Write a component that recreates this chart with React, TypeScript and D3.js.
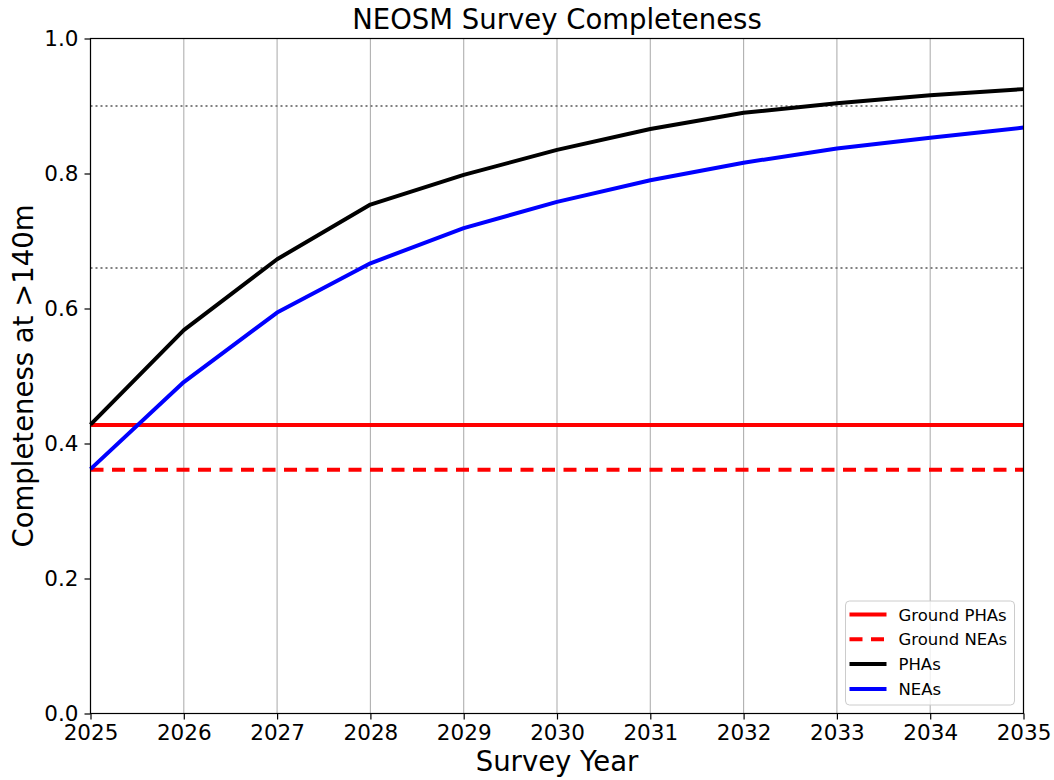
import React, { useRef, useEffect } from 'react';
import * as d3 from 'd3';

// survey years and completeness fractions
const years = [2025, 2026, 2027, 2028, 2029, 2030, 2031, 2032, 2033, 2034, 2035];
const phaValues = [0.428, 0.568, 0.673, 0.754, 0.798, 0.835, 0.866, 0.890, 0.904, 0.916, 0.925];
const neaValues = [0.362, 0.491, 0.594, 0.667, 0.719, 0.758, 0.790, 0.816, 0.837, 0.853, 0.868];
const groundPha = 0.4275;
const groundNea = 0.361;
const refLines = [0.9, 0.66];
const yTicks = [0, 0.2, 0.4, 0.6, 0.8, 1.0];

const legendItems = [
  { label: 'Ground PHAs', color: '#ff0000', dash: null },
  { label: 'Ground NEAs', color: '#ff0000', dash: '13,8.5' },
  { label: 'PHAs', color: '#000000', dash: null },
  { label: 'NEAs', color: '#0000ff', dash: null },
];

const W = 1054;
const H = 780;
const margin = { top: 38.5, right: 30.5, bottom: 66.5, left: 90.5 };
const font = 'DejaVu Sans, sans-serif';

const Chart: React.FC = () => {
  const svgRef = useRef<SVGSVGElement | null>(null);

  useEffect(() => {
    if (!svgRef.current) return;
    const chartWidth = W - margin.left - margin.right;
    const chartHeight = H - margin.top - margin.bottom;

    const x = d3.scaleLinear().domain([2025, 2035]).range([0, chartWidth]);
    const y = d3.scaleLinear().domain([0, 1]).range([chartHeight, 0]);

    const svg = d3.select(svgRef.current)
      .attr('width', W)
      .attr('height', H)
      .style('font-family', font);

    svg.append('rect').attr('width', W).attr('height', H).attr('fill', '#ffffff');

    const g = svg.append('g').attr('transform', `translate(${margin.left},${margin.top})`);

    // vertical grid
    g.append('g')
      .selectAll('line')
      .data(years)
      .join('line')
      .attr('x1', d => x(d)).attr('x2', d => x(d))
      .attr('y1', 0).attr('y2', chartHeight)
      .attr('stroke', '#b0b0b0')
      .attr('stroke-width', 1.1);

    // dotted reference levels
    g.append('g')
      .selectAll('line')
      .data(refLines)
      .join('line')
      .attr('x1', 0).attr('x2', chartWidth)
      .attr('y1', d => y(d)).attr('y2', d => y(d))
      .attr('stroke', '#808080')
      .attr('stroke-width', 2)
      .attr('stroke-dasharray', '2,3');

    // ground-based survey levels
    g.append('line')
      .attr('x1', 0).attr('x2', chartWidth)
      .attr('y1', y(groundPha)).attr('y2', y(groundPha))
      .attr('stroke', '#ff0000').attr('stroke-width', 4);
    g.append('line')
      .attr('x1', 0).attr('x2', chartWidth)
      .attr('y1', y(groundNea)).attr('y2', y(groundNea))
      .attr('stroke', '#ff0000').attr('stroke-width', 4)
      .attr('stroke-dasharray', '13,8.5');

    const line = d3.line<number>()
      .x((_, i) => x(years[i]))
      .y(d => y(d));

    g.append('path')
      .attr('d', line(phaValues))
      .attr('fill', 'none')
      .attr('stroke', '#000000')
      .attr('stroke-width', 4)
      .attr('stroke-linejoin', 'round');

    g.append('path')
      .attr('d', line(neaValues))
      .attr('fill', 'none')
      .attr('stroke', '#0000ff')
      .attr('stroke-width', 4)
      .attr('stroke-linejoin', 'round');

    // frame
    g.append('rect')
      .attr('width', chartWidth)
      .attr('height', chartHeight)
      .attr('fill', 'none')
      .attr('stroke', '#000000')
      .attr('stroke-width', 1.2);

    // axes
    const xAxis = g.append('g')
      .attr('transform', `translate(0,${chartHeight})`)
      .call(d3.axisBottom(x).tickValues(years).tickFormat(d3.format('d')).tickSize(6).tickPadding(5));
    const yAxis = g.append('g')
      .call(d3.axisLeft(y).tickValues(yTicks).tickFormat(d3.format('.1f')).tickSize(6).tickPadding(6));

    [xAxis, yAxis].forEach(a => {
      a.select('.domain').remove();
      a.selectAll('.tick line').attr('stroke', '#000000').attr('stroke-width', 1.2);
      a.selectAll('.tick text')
        .attr('fill', '#000000')
        .style('font-family', font)
        .style('font-size', '21.5px');
    });

    // title and labels
    g.append('text')
      .attr('x', chartWidth / 2)
      .attr('y', -10)
      .attr('text-anchor', 'middle')
      .attr('font-size', 27.5)
      .attr('fill', '#000000')
      .text('NEOSM Survey Completeness');

    g.append('text')
      .attr('x', chartWidth / 2)
      .attr('y', chartHeight + 57.5)
      .attr('text-anchor', 'middle')
      .attr('font-size', 27.5)
      .attr('fill', '#000000')
      .text('Survey Year');

    g.append('text')
      .attr('transform', `translate(${33 - margin.left},${chartHeight / 2}) rotate(-90)`)
      .attr('text-anchor', 'middle')
      .attr('font-size', 27.5)
      .attr('fill', '#000000')
      .text('Completeness at >140m');

    // legend
    const lg = g.append('g').attr('transform', `translate(${845.5 - margin.left},${601 - margin.top})`);
    lg.append('rect')
      .attr('width', 169)
      .attr('height', 104)
      .attr('rx', 4)
      .attr('fill', '#ffffff')
      .attr('fill-opacity', 0.8)
      .attr('stroke', '#cccccc')
      .attr('stroke-width', 1);

    const rows = lg.selectAll('g.row')
      .data(legendItems)
      .join('g')
      .attr('class', 'row')
      .attr('transform', (_, i) => `translate(0,${13.5 + i * 24.8})`);
    rows.append('line')
      .attr('x1', 4).attr('x2', 41)
      .attr('y1', 0).attr('y2', 0)
      .attr('stroke', d => d.color)
      .attr('stroke-width', 4)
      .attr('stroke-dasharray', d => d.dash ?? null);
    rows.append('text')
      .attr('x', 53)
      .attr('y', 6)
      .attr('font-size', 16.5)
      .attr('fill', '#000000')
      .text(d => d.label);

    return () => {
      d3.select(svgRef.current).selectAll('*').remove();
    };
  }, []);

  return <svg ref={svgRef} style={{ display: 'block' }}></svg>;
};

export default function App() {
  return (
    <div style={{ position: 'absolute', left: 0, top: 0 }}>
      <Chart />
    </div>
  );
}
